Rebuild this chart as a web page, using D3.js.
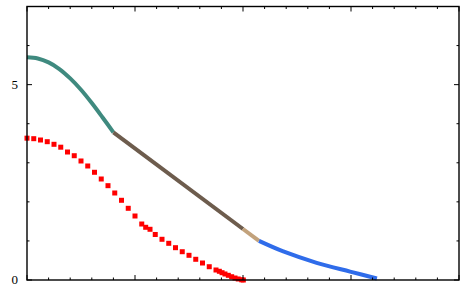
<!DOCTYPE html>
<html>
<head>
<meta charset="utf-8">
<script src="https://cdn.jsdelivr.net/npm/d3@7"></script>
<style>
body { margin: 0; background: #fff; }
svg { display: block; }
</style>
</head>
<body>
<div id="chart"></div>
<script>
// values
var greenX = [0, 0.1, 0.2, 0.3, 0.4, 0.5, 0.6, 0.7, 0.8];
var greenY = [5.70, 5.67, 5.57, 5.40, 5.16, 4.87, 4.53, 4.16, 3.78];
var brownX = [0.8, 2.0];
var brownY = [3.78, 1.305];
var tanX = [2.0, 2.148];
var tanY = [1.305, 1.0];
var blueX = [2.148, 2.373, 2.682, 2.991, 3.24];
var blueY = [1.0, 0.73, 0.44, 0.215, 0.04];
var redX = [0, 0.0625, 0.125, 0.1875, 0.25, 0.3125, 0.375, 0.4375, 0.5, 0.5625, 0.625, 0.6875,
  0.75, 0.8125, 0.875, 0.9375, 1.0, 1.0625, 1.099, 1.139, 1.1875, 1.25, 1.3125, 1.375, 1.4375,
  1.5, 1.5625, 1.625, 1.6875, 1.75, 1.781, 1.806, 1.833, 1.864, 1.895, 1.926, 1.956, 1.988, 2.003];
var redY = [3.63, 3.617, 3.583, 3.54, 3.473, 3.399, 3.276, 3.181, 3.046, 2.918, 2.757, 2.585,
  2.414, 2.227, 2.04, 1.835, 1.638, 1.433, 1.349, 1.298, 1.165, 1.042, 0.939, 0.827, 0.724,
  0.632, 0.53, 0.435, 0.34, 0.256, 0.223, 0.187, 0.154, 0.12, 0.084, 0.051, 0.026, 0.005, 0.0];
var yLabels = [0, 5];

var width = 466, height = 286;
var margin = {left: 27, right: 7, top: 6.5, bottom: 6};

var svg = d3.select("#chart").append("svg")
    .attr("width", width).attr("height", height);

var x = d3.scaleLinear().domain([0, 4]).range([margin.left, width - margin.right]);
var y = d3.scaleLinear().domain([0, 7]).range([height - margin.bottom, margin.top]);

function pts(xs, ys) {
    return xs.map(function (v, i) { return [v, ys[i]]; });
}

var line = d3.line()
    .x(function (d) { return x(d[0]); })
    .y(function (d) { return y(d[1]); })
    .curve(d3.curveCatmullRom);

// red squares first (below lines)
svg.append("g").selectAll("rect")
    .data(pts(redX, redY))
    .enter().append("rect")
    .attr("x", function (d) { return x(d[0]) - 2.5; })
    .attr("y", function (d) { return y(d[1]) - 2.5; })
    .attr("width", 5).attr("height", 5)
    .attr("fill", "#ff0000");

var segs = [
    {xs: greenX, ys: greenY, c: "#3f8a7f"},
    {xs: brownX, ys: brownY, c: "#6d5c4d"},
    {xs: tanX, ys: tanY, c: "#c2a27c"},
    {xs: blueX, ys: blueY, c: "#2f6cea"}
];
segs.forEach(function (s) {
    svg.append("path")
        .attr("d", line(pts(s.xs, s.ys)))
        .attr("fill", "none")
        .attr("stroke", s.c)
        .attr("stroke-width", 4);
});

// frame with inward ticks
var x0 = x(0), x1 = x(4), y0 = y(0), y1 = y(7);
var tk = svg.append("g").attr("stroke", "#000").attr("stroke-width", 1);
d3.range(0, 4.001, 0.2).forEach(function (v) {
    var major = Math.abs(v - Math.round(v)) < 1e-6;
    var len = major ? 5 : 2.5;
    tk.append("line").attr("x1", x(v)).attr("x2", x(v)).attr("y1", y0).attr("y2", y0 - len);
    tk.append("line").attr("x1", x(v)).attr("x2", x(v)).attr("y1", y1).attr("y2", y1 + len);
});
d3.range(0, 8).forEach(function (v) {
    var major = v % 5 === 0;
    var len = major ? 5 : 2.5;
    tk.append("line").attr("y1", y(v)).attr("y2", y(v)).attr("x1", x0).attr("x2", x0 + len);
    tk.append("line").attr("y1", y(v)).attr("y2", y(v)).attr("x1", x1).attr("x2", x1 - len);
});

svg.append("rect")
    .attr("x", x0).attr("y", y1)
    .attr("width", x1 - x0).attr("height", y0 - y1)
    .attr("fill", "none").attr("stroke", "#000").attr("stroke-width", 1.4);

svg.append("g").selectAll("text")
    .data(yLabels)
    .enter().append("text")
    .attr("x", 18)
    .attr("y", function (d) { return y(d); })
    .attr("dy", "0.32em")
    .attr("text-anchor", "end")
    .attr("font-family", "Liberation Serif, DejaVu Serif, serif")
    .attr("font-size", 13)
    .text(function (d) { return d; });
</script>
</body>
</html>
